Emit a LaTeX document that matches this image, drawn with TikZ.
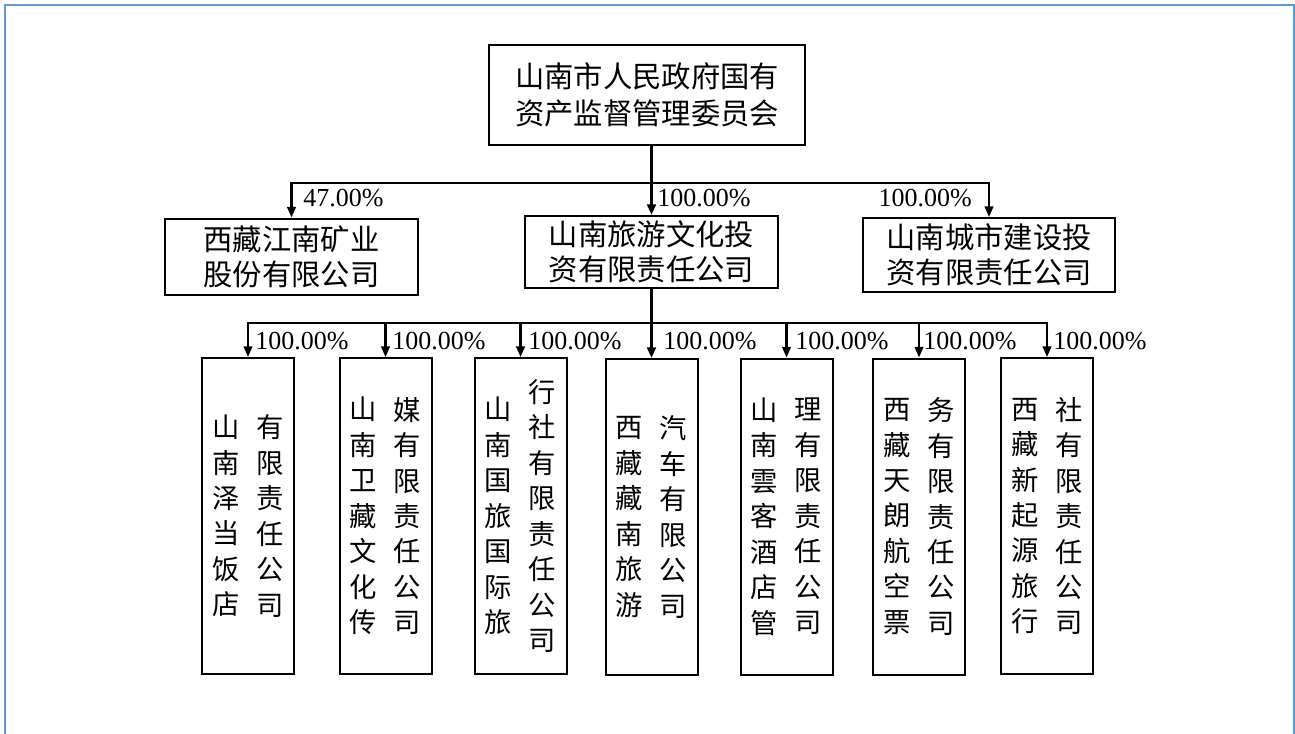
\documentclass[tikz,border=0pt]{standalone}
\usepackage{fontspec}
\setmainfont{Liberation Serif}
\newfontfamily\cjk{Noto Sans CJK SC}
\usetikzlibrary{arrows.meta}
\definecolor{framec}{RGB}{91,155,213}

\begin{document}
\begin{tikzpicture}[x=0.75pt,y=-0.75pt,
  box/.style={draw=black,line width=1.5pt,inner sep=0,align=center,
    font=\cjk\fontsize{22}{26.5}\selectfont},
  vbox/.style={draw=black,line width=1.5pt,inner sep=0,
    minimum width=69pt,minimum height=237pt},
  colt/.style={inner sep=0,align=center,font=\cjk\fontsize{20.5}{26.6}\selectfont},
  pct/.style={inner sep=0,font=\fontsize{19.5}{20}\selectfont},
  arr/.style={line width=1.6pt,-{Triangle[length=8pt,width=6.5pt]}},
  trunk/.style={arr,line width=2.2pt}]
\useasboundingbox (0,0) rectangle (1295,733);
%frame
\draw[framec,line width=1.6pt] (5,740) -- (5,5) -- (1294,5) -- (1294,740);
%top
\node[box,minimum width=237pt,minimum height=75pt,
  font=\cjk\fontsize{22}{27.5}\selectfont] (top) at (647,95)
  {山南市人民政府国有\\资产监督管理委员会};
%second row
\node[box,minimum width=190pt,minimum height=57pt] (jn) at (291.5,256.5) {西藏江南矿业\\股份有限公司};
\node[box,minimum width=190pt,minimum height=54pt] (ly) at (651.5,252) {山南旅游文化投\\资有限责任公司};
\node[box,minimum width=189pt,minimum height=55.5pt] (cs) at (989,255) {山南城市建设投\\资有限责任公司};
\coordinate (b1) at (651.5,183);
\draw[trunk] (top.south -| ly.north) -- (ly.north);
\draw[arr] (b1) -| (jn.north);
\draw[arr] (b1) -| (cs.north);
\node[pct,anchor=west] (p1) at (303,198) {47.00\%};
\node[pct,anchor=west] (p2) at (657,198) {100.00\%};
\node[pct,anchor=east] (p3) at (972,198) {100.00\%};
%bottom row
\node[vbox] (c1) at (248,516) {};
\node[vbox] (c2) at (385.5,516) {};
\node[vbox] (c3) at (520.5,516) {};
\node[vbox] (c4) at (651.5,517) {};
\node[vbox] (c5) at (786.5,516.5) {};
\node[vbox] (c6) at (919,516.5) {};
\node[vbox] (c7) at (1047,516) {};
\node[colt] (c1a) at ([xshift=-16.5pt]c1.center) {山\\南\\泽\\当\\饭\\店};
\node[colt] (c1b) at ([xshift=16.5pt]c1.center) {有\\限\\责\\任\\公\\司};
\node[colt] (c2a) at ([xshift=-16.5pt]c2.center) {山\\南\\卫\\藏\\文\\化\\传};
\node[colt] (c2b) at ([xshift=16.5pt]c2.center) {媒\\有\\限\\责\\任\\公\\司};
\node[colt] (c3a) at ([xshift=-16.5pt]c3.center) {山\\南\\国\\旅\\国\\际\\旅};
\node[colt] (c3b) at ([xshift=16.5pt]c3.center) {行\\社\\有\\限\\责\\任\\公\\司};
\node[colt] (c4a) at ([xshift=-16.5pt]c4.center) {西\\藏\\藏\\南\\旅\\游};
\node[colt] (c4b) at ([xshift=16.5pt]c4.center) {汽\\车\\有\\限\\公\\司};
\node[colt] (c5a) at ([xshift=-16.5pt]c5.center) {山\\南\\雲\\客\\酒\\店\\管};
\node[colt] (c5b) at ([xshift=16.5pt]c5.center) {理\\有\\限\\责\\任\\公\\司};
\node[colt] (c6a) at ([xshift=-16.5pt]c6.center) {西\\藏\\天\\朗\\航\\空\\票};
\node[colt] (c6b) at ([xshift=16.5pt]c6.center) {务\\有\\限\\责\\任\\公\\司};
\node[colt] (c7a) at ([xshift=-16.5pt]c7.center) {西\\藏\\新\\起\\源\\旅\\行};
\node[colt] (c7b) at ([xshift=16.5pt]c7.center) {社\\有\\限\\责\\任\\公\\司};
\coordinate (b2) at (651.5,323);
\draw[trunk] (ly.south) -- (c4.north);
\foreach \c in {c1,c2,c3,c5,c6,c7}
  \draw[arr] (b2) -| (\c.north);
\foreach \x/\n in {255/q1,392/q2,528/q3,663/q4,795/q5,923/q6,1053/q7}
  \node[pct,anchor=west] (\n) at (\x,341) {100.00\%};
\end{tikzpicture}
\end{document}
